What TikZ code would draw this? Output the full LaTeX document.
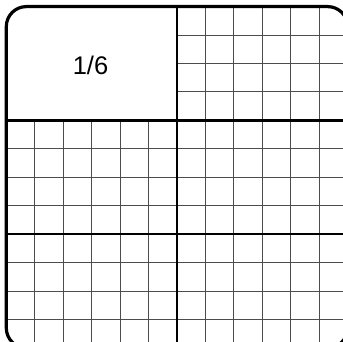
\documentclass[tikz,border=0pt]{standalone}
\usepackage{fontspec}
\setmainfont{Liberation Sans}
\begin{document}
\begin{tikzpicture}[x=1pt,y=-1pt,
  gridline/.style={line width=1pt,draw=black!70},
  divider/.style={line width=2.4pt,draw=black},
  frame/.style={line width=3.2pt,draw=black,rounded corners=20pt},
  label/.style={font=\fontsize{25.5}{30}\selectfont,inner sep=0pt}]
\pgfmathsetmacro{\ox}{6.3}
\pgfmathsetmacro{\oy}{6.6}
\pgfmathsetmacro{\u}{28.45}
\pgfmathsetmacro{\ex}{\ox+12*\u}
\pgfmathsetmacro{\ey}{\oy+12*\u}
\pgfmathsetmacro{\mx}{\ox+6*\u}
\pgfmathsetmacro{\hya}{\oy+4*\u}
\pgfmathsetmacro{\hyb}{\oy+8*\u}
\useasboundingbox (0,0) rectangle (343,342);
\clip (0,0) rectangle (343,342);
\fill[white] (0,0) rectangle (343,342);
\begin{scope}
  \clip[rounded corners=20pt] (\ox,\oy) rectangle (\ex,\ey);
  % vertical grid lines
  \foreach \k in {1,...,5} {
    \draw[gridline] ({\ox+\k*\u},\hya) -- ({\ox+\k*\u},\ey);
  }
  \foreach \k in {7,...,11} {
    \draw[gridline] ({\ox+\k*\u},\oy) -- ({\ox+\k*\u},\ey);
  }
  % horizontal grid lines
  \foreach \j in {1,2,3} {
    \draw[gridline] (\mx,{\oy+\j*\u}) -- (\ex,{\oy+\j*\u});
  }
  \foreach \j in {5,6,7,9,10,11} {
    \draw[gridline] (\ox,{\oy+\j*\u}) -- (\ex,{\oy+\j*\u});
  }
  % thick dividers
  \draw[divider] (\mx,\oy) -- (\mx,\ey);
  \draw[divider] (\ox,\hya) -- (\ex,\hya);
  \draw[divider] (\ox,\hyb) -- (\ex,\hyb);
\end{scope}
\draw[frame] (\ox,\oy) rectangle (\ex,\ey);
\node[label] (frac) at (90.5,65.5) {1/6};
\end{tikzpicture}
\end{document}
